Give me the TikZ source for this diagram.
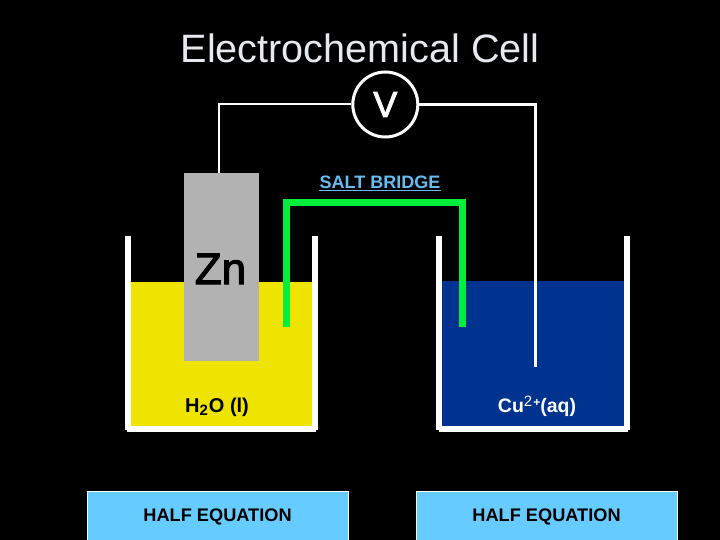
\documentclass[tikz,border=0pt]{standalone}
\usepackage{fontspec}
\setmainfont{Liberation Sans}
\newfontfamily\semibold[FakeBold=2.5]{Liberation Sans}
\definecolor{liqY}{HTML}{EFE400}
\definecolor{liqB}{HTML}{00338F}
\definecolor{metal}{HTML}{B2B2B2}
\definecolor{bridge}{HTML}{00EE3C}
\definecolor{sky}{HTML}{66CCFF}
\definecolor{saltc}{HTML}{66BBF0}
\definecolor{titlec}{HTML}{E6E9EE}
\tikzset{
  wire/.style={draw=white,line width=2.6pt},
  wall/.style={draw=white,line width=6pt},
  box/.style={draw=white,line width=0.6pt,fill=sky,minimum width=260.5pt,minimum height=51pt,inner sep=0pt,anchor=north west,font=\fontsize{18.2}{20}\selectfont\bfseries,text=black},
  liquid/.style={inner sep=0pt,anchor=north west,minimum width=181pt,minimum height=144pt},
}
\begin{document}
\begin{tikzpicture}[x=1pt,y=-1pt]
\useasboundingbox[fill=black] (0,0) rectangle (720,540);
% liquids
\node[liquid,fill=liqY] (ly) at (131,282) {};
\node[liquid,fill=liqB,minimum width=182pt,minimum height=145pt] (lb) at (442,281) {};
% electrode
\node[fill=metal,inner sep=0pt,minimum width=75pt,minimum height=188pt,anchor=north west] (zn) at (184,173) {};
\node[font=\fontsize{44}{46}\semibold,text=black,anchor=base] (zntext) at (220.5,284) {Zn};
% beakers
\coordinate (a1) at (128,236); \coordinate (a2) at (128,430); \coordinate (a3) at (315,430); \coordinate (a4) at (315,236);
\coordinate (a5) at (127,429); \coordinate (a6) at (316,429);
\coordinate (b1) at (439,236); \coordinate (b2) at (439,430); \coordinate (b3) at (627,430); \coordinate (b4) at (627,236);
\coordinate (b5) at (439,429); \coordinate (b6) at (628,429);
\draw[wall] (a1) -- (a2) (a3) -- (a4) (a5) -- (a6);
\draw[wall] (b1) -- (b2) (b3) -- (b4) (b5) -- (b6);
% salt bridge
\coordinate (g1) at (286.5,327); \coordinate (g2) at (286.5,203); \coordinate (g3) at (462.5,203); \coordinate (g4) at (462.5,327);
\draw[draw=bridge,line width=7pt] (g1) -- (g2) -- (g3) -- (g4);
% voltmeter and wires
\node[circle,draw=white,line width=3pt,fill=black,minimum size=65pt,inner sep=0pt,font=\fontsize{36}{38}\semibold,text=white] (v) at (385.3,104.5) {V};
\coordinate (w1) at (219,104.5);
\coordinate (w2) at (535.5,104.5);
\coordinate (w3) at (535.5,367);
\draw[wire,line width=2pt] (v.west) -- (w1) -- (w1 |- zn.north);
\draw[wire] (v.east) -- (w2) -- (w3);
% labels
\node[font=\fontsize{39.6}{42}\selectfont,text=titlec,anchor=base] (title) at (360,63) {Electrochemical Cell};
\node[font=\fontsize{18}{20}\selectfont\bfseries,text=saltc,anchor=base,inner sep=0pt] (salt) at (380,188.5) {SALT BRIDGE};
\draw[saltc,line width=1pt] (salt.base west)++(0,2.5) -- ++(122,0);
\node[font=\fontsize{20}{22}\selectfont\bfseries,text=black,anchor=base] (h2o) at (217,412) {H\raisebox{-3.5pt}{\fontsize{15}{15}\selectfont 2}\kern1pt O (l)};
\node[font=\fontsize{19.5}{22}\selectfont\bfseries,text=white,anchor=base] (cu) at (537,412) {Cu\raisebox{6pt}{\fontsize{15}{15}\selectfont\mdseries 2}\kern1pt\raisebox{6pt}{\fontsize{12}{12}\selectfont +}(aq)};
\node[box] (h1) at (87,491) {HALF EQUATION};
\node[box] (h2) at (416,491) {HALF EQUATION};
\end{tikzpicture}
\end{document}
